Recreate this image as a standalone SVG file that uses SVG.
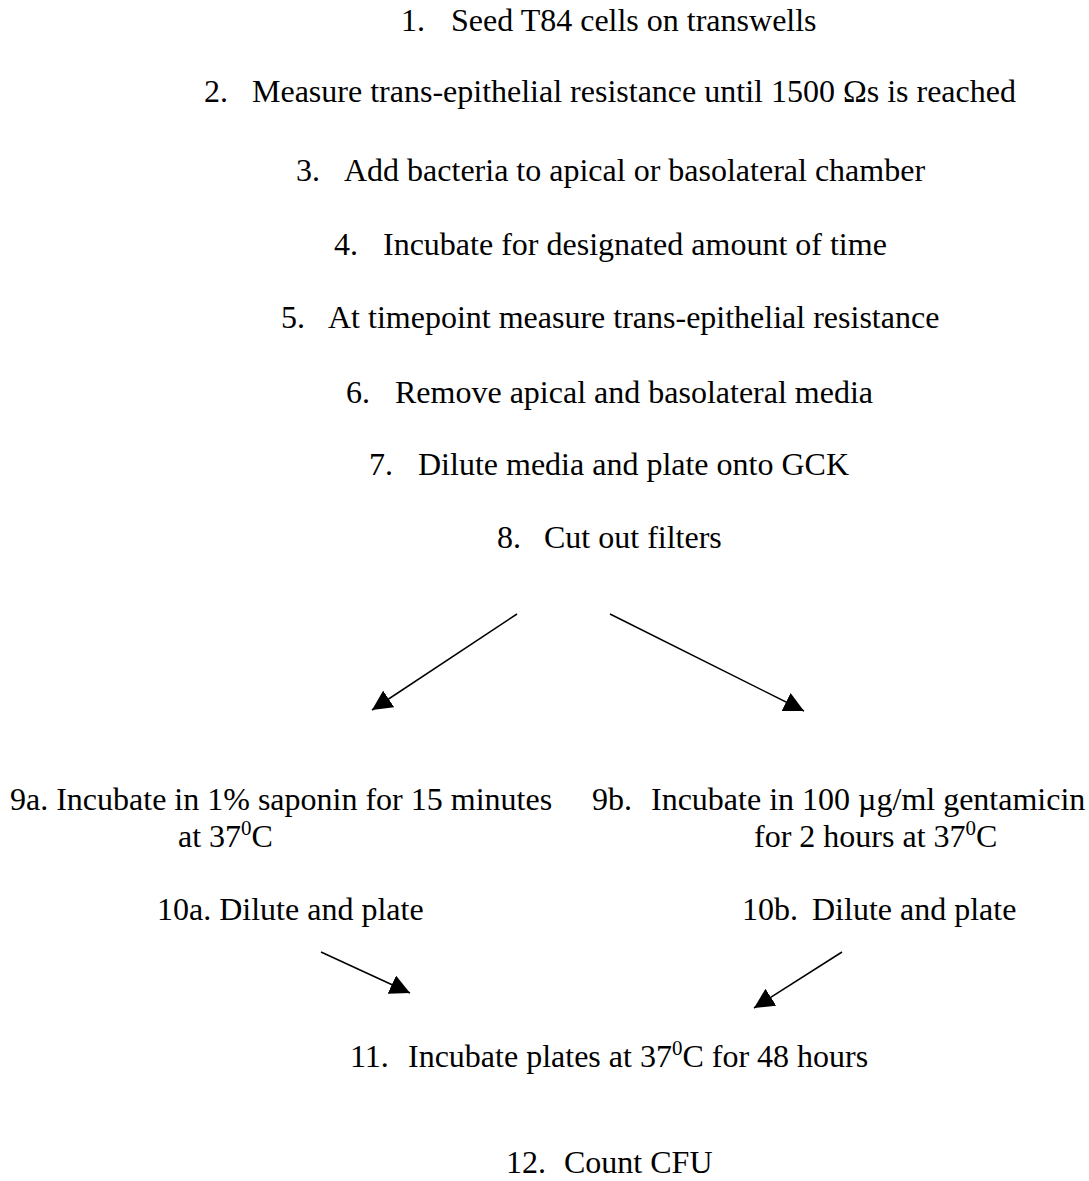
<svg xmlns="http://www.w3.org/2000/svg" width="1089" height="1181" viewBox="0 0 1089 1181">
<style>
text { font-family: "Liberation Serif", "Times New Roman", serif; font-size: 32px; fill: #000; }
.sup { font-size: 21px; }
.conn line { stroke: #000; stroke-width: 1.5; fill: none; marker-end: url(#ah); }
</style>
<defs>
<marker id="ah" viewBox="0 0 20 20" refX="20" refY="10" markerWidth="20" markerHeight="20" markerUnits="userSpaceOnUse" orient="auto">
<path d="M0,0 L20,10 L0,20 z" fill="#000"/>
</marker>
</defs>
<rect width="1089" height="1181" fill="#fff"/>
<g id="step1"><text x="401" y="31">1.</text><text x="451" y="31">Seed T84 cells on transwells</text></g>
<g id="step2"><text x="204" y="102">2.</text><text x="252" y="102">Measure trans-epithelial resistance until 1500 Ωs is reached</text></g>
<g id="step3"><text x="296" y="181">3.</text><text x="344" y="181">Add bacteria to apical or basolateral chamber</text></g>
<g id="step4"><text x="334" y="255">4.</text><text x="383" y="255">Incubate for designated amount of time</text></g>
<g id="step5"><text x="281" y="328">5.</text><text x="328" y="328">At timepoint measure trans-epithelial resistance</text></g>
<g id="step6"><text x="346" y="403">6.</text><text x="395" y="403">Remove apical and basolateral media</text></g>
<g id="step7"><text x="369" y="475">7.</text><text x="418" y="475">Dilute media and plate onto GCK</text></g>
<g id="step8"><text x="497" y="548">8.</text><text x="544" y="548">Cut out filters</text></g>
<g id="step9a"><text x="10" y="810">9a. Incubate in 1% saponin for 15 minutes</text><text x="178" y="847">at 37<tspan class="sup" dy="-12">0</tspan><tspan dy="12">C</tspan></text></g>
<g id="step9b"><text x="592" y="810">9b.</text><text x="651" y="810">Incubate in 100 µg/ml gentamicin</text><text x="754" y="847">for 2 hours at 37<tspan class="sup" dy="-12">0</tspan><tspan dy="12">C</tspan></text></g>
<g id="step10a"><text x="157" y="920">10a. Dilute and plate</text></g>
<g id="step10b"><text x="742" y="920">10b.</text><text x="812" y="920">Dilute and plate</text></g>
<g id="step11"><text x="350" y="1067">11.</text><text x="408" y="1067">Incubate plates at 37<tspan class="sup" dy="-12">0</tspan><tspan dy="12">C for 48 hours</tspan></text></g>
<g id="step12"><text x="506" y="1173">12.</text><text x="564" y="1173">Count CFU</text></g>
<g id="connectors" class="conn">
<line x1="517" y1="614" x2="372" y2="710"/>
<line x1="610" y1="614" x2="804" y2="711"/>
<line x1="321" y1="952" x2="410" y2="993"/>
<line x1="842" y1="952" x2="754" y2="1008"/>
</g>
</svg>
